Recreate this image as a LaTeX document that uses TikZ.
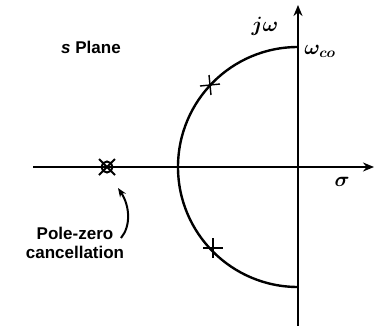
\documentclass[tikz,border=0pt]{standalone}
\usepackage{fontspec}
\setmainfont{Liberation Sans}
\usetikzlibrary{arrows.meta,calc}
\tikzset{
  axis/.style={line width=2.4pt,-{Stealth[length=11pt,width=9pt]}},
  lbl/.style={font=\bfseries\fontsize{17}{19}\selectfont, inner sep=0pt, align=center},
  mathlbl/.style={font=\fontsize{20}{22}\selectfont\boldmath, inner sep=0pt},
  polemark/.style={line width=1.4pt},
}
\begin{document}
\begin{tikzpicture}[x=1pt,y=-1pt]
\useasboundingbox (0,0) rectangle (376,325);
% coordinates
\coordinate (O) at (298,167);
\coordinate (xl) at (33,167);
\coordinate (xr) at (374,167);
\coordinate (yb) at (298,326);
\coordinate (yt) at (298,5);
% axes
\draw[axis] (xl) -- (xr);
\draw[axis] (yb) -- (yt);
% semicircle
\draw[line width=2.4pt] (O) ++(0,-120) arc[start angle=-90, end angle=-270, radius=120];
% poles on circle
\coordinate (p1) at ($(O)+(-88,-82)$);
\coordinate (p2) at ($(O)+(-85,81)$);
\draw[polemark] (p1) ++(-10,1) -- ++(20,-2) (p1) ++(-1,-10) -- ++(2,20);
\draw[polemark] (p2) ++(-10,0) -- ++(20,0) (p2) ++(0,-10) -- ++(0,20);
% pole-zero cancellation
\coordinate (pz) at (107,167);
\draw[line width=2pt] (pz) circle[radius=5.5];
\draw[line width=1.8pt] (pz) ++(-8,-8) -- ++(16,16) (pz) ++(-8,8) -- ++(16,-16);
% labels
\node[lbl] (splane) at (91,47) {\textit{s} Plane};
\node[lbl] (pzc) at (75,243) {Pole-zero\\cancellation};
\node[mathlbl] (jw) at (265,26) {$j\omega$};
\node[mathlbl] (wco) at (320,51) {$\omega_{co}$};
\node[mathlbl] (sig) at (342,182) {$\sigma$};
% curved arrow
\coordinate (ca) at (121,238);
\coordinate (cb) at (118,188);
\draw[line width=2pt,-{Stealth[length=9pt,width=7pt]}] (ca) .. controls (131,226) and (130,206) .. (cb);
\end{tikzpicture}
\end{document}
